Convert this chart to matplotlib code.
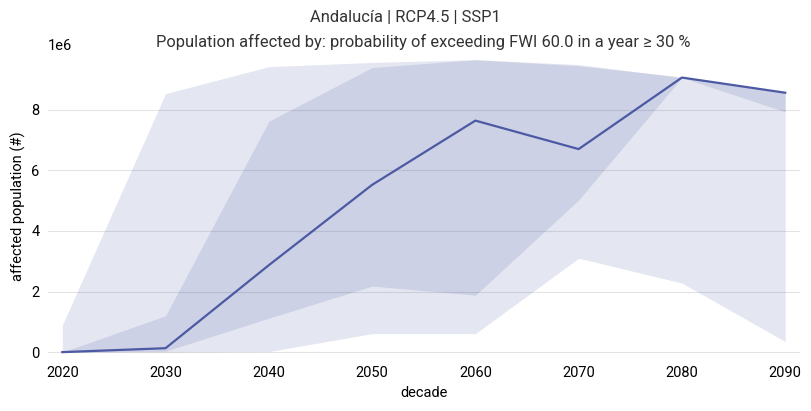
import numpy as np
import matplotlib
matplotlib.use('Agg')
import matplotlib.pyplot as plt

plt.rcParams['font.family'] = ['Roboto', 'DejaVu Sans']

# data (values in persons)
decades = [2020, 2030, 2040, 2050, 2060, 2070, 2080, 2090]
median = [0.0, 0.13e6, 2.87e6, 5.52e6, 7.64e6, 6.70e6, 9.06e6, 8.56e6]
inner_low = [0.0, 0.03e6, 1.12e6, 2.18e6, 1.88e6, 5.02e6, 9.06e6, 7.93e6]
inner_high = [0.0, 1.20e6, 7.62e6, 9.39e6, 9.65e6, 9.49e6, 9.06e6, 8.56e6]
outer_low = [0.0, 0.0, 0.02e6, 0.61e6, 0.61e6, 3.10e6, 2.28e6, 0.35e6]
outer_high = [0.89e6, 8.53e6, 9.42e6, 9.56e6, 9.65e6, 9.45e6, 9.08e6, 8.58e6]

color = '#4c59a3'

fig = plt.figure(figsize=(8.11, 4.11), dpi=100)
ax = fig.add_axes([0.059, 0.129, 0.927, 0.74])

ax.fill_between(decades, outer_low, outer_high, color=color, alpha=0.15, lw=0)
ax.fill_between(decades, inner_low, inner_high, color=color, alpha=0.15, lw=0)
ax.plot(decades, median, color=color, lw=1.6)

ax.margins(x=0.02, y=0.02)
ax.set_xticks(decades)
ax.grid(axis='y', color='#e3e3e3', lw=0.8)
ax.set_axisbelow(True)
for s in ax.spines.values():
    s.set_visible(False)
ax.tick_params(length=0, labelsize=10.5, pad=6)
ax.yaxis.get_offset_text().set_fontsize(10.5)
ax.set_xlabel('decade', fontsize=10.5)
ax.set_ylabel('affected population (#)', fontsize=10.5)

fig.text(0.4995, 0.957, 'Andalucía | RCP4.5 | SSP1', ha='center', va='center',
         fontsize=11.9, color='#333333')
fig.text(0.059 + 0.927 / 2, 0.897,
         'Population affected by: probability of exceeding FWI 60.0 in a year \u2265 30 %',
         ha='center', va='center', fontsize=11.9, color='#333333')

plt.savefig('out.png', dpi=100)
